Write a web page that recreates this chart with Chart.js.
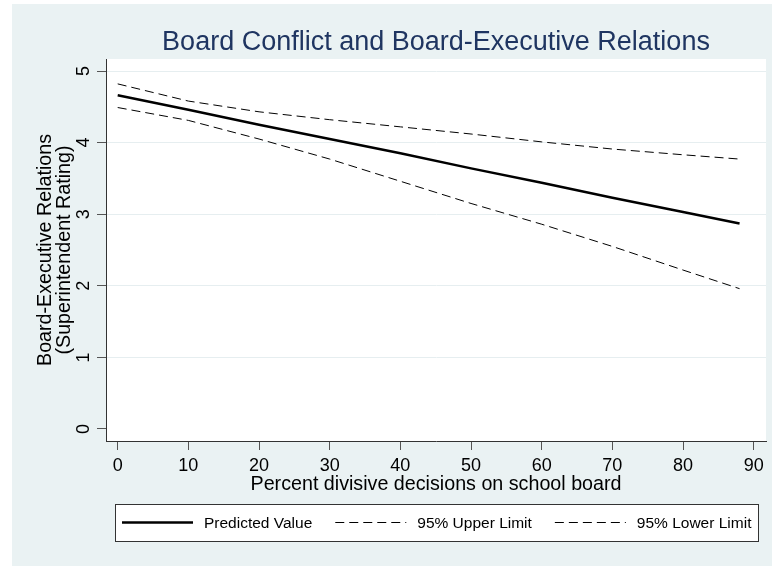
<!DOCTYPE html>
<html lang="en">
<head>
<meta charset="UTF-8">
<title>Board Conflict and Board-Executive Relations</title>
<script src="https://cdn.jsdelivr.net/npm/chart.js"></script>
<style>
  body { margin: 0; background: #fff; }
  canvas { display: block; }
</style>
</head>
<body>
<canvas id="chart" width="772" height="566"></canvas>
<script>
// values
const decisions = [0, 10, 20, 30, 40, 50, 60, 70, 80, 88];
const predicted = [4.66, 4.46, 4.25, 4.05, 3.85, 3.64, 3.44, 3.23, 3.03, 2.87];
const upperLimit = [4.82, 4.58, 4.43, 4.32, 4.22, 4.12, 4.01, 3.91, 3.83, 3.77];
const lowerLimit = [4.49, 4.31, 4.05, 3.77, 3.46, 3.15, 2.86, 2.55, 2.22, 1.96];
const xTicks = [0, 10, 20, 30, 40, 50, 60, 70, 80, 90];
const yTicks = [0, 1, 2, 3, 4, 5];
const seriesNames = ['Predicted Value', '95% Upper Limit', '95% Lower Limit'];

const chartTitle = 'Board Conflict and Board-Executive Relations';
const xTitle = 'Percent divisive decisions on school board';
const yTitle = ['Board-Executive Relations', '(Superintendent Rating)'];

const family = '"Liberation Sans", Arial, sans-serif';
Chart.defaults.font.family = family;

const toPoints = ys => decisions.map((x, i) => ({x: x, y: ys[i]}));

const backdrop = {
  id: 'backdrop',
  beforeDraw(chart) {
    const {ctx, chartArea: a} = chart;
    ctx.save();
    ctx.fillStyle = '#EAF2F3';
    ctx.fillRect(12, 4, chart.width - 12, chart.height - 4);
    ctx.fillStyle = '#fff';
    ctx.fillRect(a.left, a.top, a.right - a.left, a.bottom - a.top);
    ctx.restore();
  }
};

// title centred over the plot region, boxed key below the axis title
const titleAndKey = {
  id: 'titleAndKey',
  afterDraw(chart) {
    const {ctx, chartArea: a} = chart;
    const mid = (a.left + a.right) / 2;
    ctx.save();
    ctx.font = '27px ' + family;
    ctx.fillStyle = '#1F3561';
    ctx.textAlign = 'center';
    ctx.textBaseline = 'alphabetic';
    ctx.fillText(chartTitle, mid, 50);

    ctx.font = '15.5px ' + family;
    const sample = 71, gap = 11, spacing = 23;
    const items = chart.data.datasets.map(ds => ({ds: ds, w: sample + gap + ctx.measureText(ds.label).width}));
    const total = items.reduce((s, it) => s + it.w, 0) + spacing * (items.length - 1);
    const boxW = Math.round(total + 14), boxTop = 504, boxH = 37;
    const boxLeft = Math.round(mid - boxW / 2);
    ctx.fillStyle = '#fff';
    ctx.fillRect(boxLeft, boxTop, boxW, boxH);
    ctx.strokeStyle = '#333';
    ctx.lineWidth = 1;
    ctx.strokeRect(boxLeft + 0.5, boxTop + 0.5, boxW, boxH);
    let x = boxLeft + 7;
    const cy = boxTop + boxH / 2;
    items.forEach(({ds, w}) => {
      ctx.beginPath();
      ctx.setLineDash(ds.borderDash || []);
      ctx.strokeStyle = ds.borderColor;
      ctx.lineWidth = ds.borderWidth;
      ctx.moveTo(x, cy);
      ctx.lineTo(x + sample, cy);
      ctx.stroke();
      ctx.setLineDash([]);
      ctx.fillStyle = '#000';
      ctx.textAlign = 'left';
      ctx.textBaseline = 'middle';
      ctx.fillText(ds.label, x + sample + gap, cy + 1.5);
      x += w + spacing;
    });
    ctx.restore();
  }
};

new Chart(document.getElementById('chart'), {
  type: 'line',
  data: {
    datasets: [
      {label: seriesNames[0], data: toPoints(predicted), borderColor: '#000', borderWidth: 2.5},
      {label: seriesNames[1], data: toPoints(upperLimit), borderColor: '#000', borderWidth: 1, borderDash: [9, 5]},
      {label: seriesNames[2], data: toPoints(lowerLimit), borderColor: '#000', borderWidth: 1, borderDash: [9, 5]}
    ]
  },
  options: {
    responsive: false,
    animation: false,
    devicePixelRatio: 1,
    layout: {padding: {left: 12, right: 6, top: 59, bottom: 70}},
    elements: {point: {radius: 0}, line: {tension: 0}},
    plugins: {legend: {display: false}, title: {display: false}, tooltip: {enabled: false}},
    scales: {
      x: {
        type: 'linear',
        min: -1.656,
        max: 91.74,
        afterBuildTicks: s => { s.ticks = xTicks.map(v => ({value: v})); },
        afterFit: s => { s.height = 55; },
        grid: {drawOnChartArea: false, tickLength: 9, tickColor: '#555', tickWidth: 1},
        border: {color: '#333', width: 1},
        ticks: {font: {size: 18}, color: '#000', padding: 5, maxRotation: 0, autoSkip: false},
        title: {display: true, text: xTitle, font: {size: 19.7}, color: '#000', padding: {top: 0, bottom: 0}}
      },
      y: {
        type: 'linear',
        min: -0.1676,
        max: 5.1676,
        afterBuildTicks: s => { s.ticks = yTicks.map(v => ({value: v})); },
        afterFit: s => { s.width = 94; },
        grid: {
          color: c => (c.tick && c.tick.value === 0) ? 'rgba(0,0,0,0)' : '#E6EEF0',
          tickLength: 9, tickColor: '#555', tickWidth: 1
        },
        border: {color: '#333', width: 1},
        ticks: {font: {size: 18}, color: '#000', padding: 8, minRotation: 90, maxRotation: 90, crossAlign: 'center'},
        title: {display: true, text: yTitle, font: {size: 19.7, lineHeight: 0.97}, color: '#000', padding: {top: 24, bottom: 0}}
      }
    }
  },
  plugins: [backdrop, titleAndKey]
});
</script>
</body>
</html>
